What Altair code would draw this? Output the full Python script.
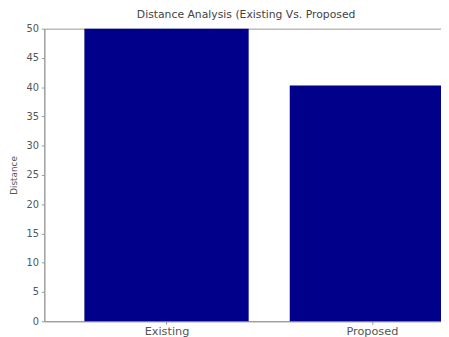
import altair as alt
import pandas as pd

categories = ["Existing", "Proposed"]
positions = [1, 2]
distances = [50, 40.3]

df = pd.DataFrame({"category": categories, "pos": positions, "distance": distances})

label_expr = " : ".join(
    f"datum.value == {p} ? '{c}'" for p, c in zip(positions[:-1], categories[:-1])
) + f" : '{categories[-1]}'"

bars = alt.Chart(df).transform_calculate(
    x0="datum.pos - 0.4", x1="datum.pos + 0.4"
).mark_rect(color="#00008B").encode(
    x=alt.X("x0:Q", scale=alt.Scale(domain=[0.405, 2.37], nice=False, zero=False, clamp=True),
            axis=alt.Axis(values=positions, labelExpr=label_expr, title=None, grid=False,
                          tickSize=3, labelPadding=1, labelFontSize=11.5)),
    x2="x1:Q",
    y=alt.Y("distance:Q", scale=alt.Scale(domain=[0, 50], nice=False),
            axis=alt.Axis(values=list(range(0, 51, 5)), title="Distance", grid=False,
                          tickSize=3, labelPadding=3, titlePadding=8, titleFontSize=9)),
    y2=alt.datum(0),
)

chart = bars.properties(
    width=441, height=329,
    title=alt.Title("Distance Analysis (Existing Vs. Proposed", fontSize=11, fontWeight="normal",
                    color="#444", font="DejaVu Sans", offset=4),
    autosize=alt.AutoSizeParams(type="fit", contains="padding"),
    padding={"left": 1, "top": -2, "right": -7, "bottom": -3},
).configure_view(stroke="#999", strokeWidth=1).configure_axis(
    domainColor="#999", tickColor="#999", labelColor="#555", titleColor="#555",
    labelFont="DejaVu Sans", titleFont="DejaVu Sans", labelFontSize=10,
    titleFontWeight="normal",
)

chart.save("out.html", embed_options={"renderer": "svg", "actions": False})
